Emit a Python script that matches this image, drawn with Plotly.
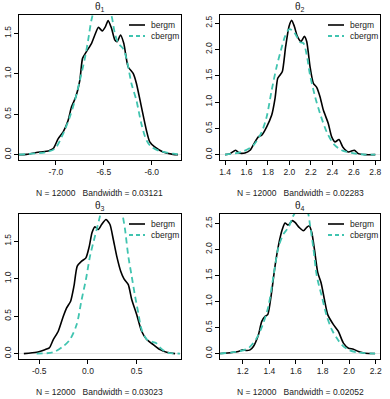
import plotly.graph_objects as go

# theta1
t1_bergm_x = [-7.385, -7.306, -7.167, -7.080, -7.028, -6.976, -6.924, -6.872, -6.837, -6.792, -6.750,
              -6.722, -6.681, -6.628, -6.594, -6.556, -6.517, -6.483, -6.455, -6.420, -6.385, -6.361,
              -6.326, -6.292, -6.247, -6.194, -6.160, -6.108, -6.056, -6.021, -5.969, -5.882, -5.778, -5.726]
t1_bergm_y = [0.0, 0.004, 0.033, 0.045, 0.074, 0.198, 0.281, 0.426, 0.591, 0.715, 0.921,
              1.190, 1.273, 1.376, 1.479, 1.574, 1.529, 1.583, 1.657, 1.562, 1.417, 1.397,
              1.479, 1.376, 1.087, 1.004, 0.880, 0.591, 0.302, 0.157, 0.095, 0.033, 0.004, 0.0]
t1_cbergm_x = [-7.385, -7.097, -7.010, -6.924, -6.854, -6.802, -6.750, -6.698, -6.663, -6.628, -6.576,
               -6.524, -6.472, -6.420, -6.385, -6.351, -6.299, -6.264, -6.212, -6.160, -6.108, -6.056,
               -6.003, -5.917, -5.778, -5.708]
t1_cbergm_y = [0.0, 0.033, 0.074, 0.26, 0.47, 0.67, 0.92, 1.19, 1.42, 1.67, 1.88,
               1.95, 1.90, 1.72, 1.50, 1.38, 1.31, 1.19, 0.88, 0.67, 0.38, 0.18,
               0.095, 0.045, 0.012, 0.0]

# theta2
t2_bergm_x = [1.400, 1.447, 1.499, 1.530, 1.586, 1.633, 1.679, 1.710, 1.742, 1.788, 1.835, 1.866, 1.891,
              1.913, 1.934, 1.965, 1.996, 2.021, 2.046, 2.074, 2.108, 2.139, 2.161, 2.192, 2.223, 2.254,
              2.285, 2.316, 2.362, 2.394, 2.425, 2.462, 2.497, 2.549, 2.605, 2.642, 2.704, 2.800]
t2_bergm_y = [0.0, 0.019, 0.083, 0.032, 0.032, 0.083, 0.242, 0.337, 0.369, 0.528, 0.751, 1.069, 1.450,
              1.514, 1.578, 2.055, 2.436, 2.551, 2.436, 2.246, 2.150, 2.246, 2.150, 1.673, 1.355, 1.279,
              1.101, 0.846, 0.592, 0.337, 0.242, 0.286, 0.146, 0.051, 0.083, 0.019, 0.0, 0.0]
t2_cbergm_x = [1.400, 1.555, 1.664, 1.742, 1.788, 1.835, 1.881, 1.922, 1.959, 1.999, 2.037, 2.068,
               2.099, 2.130, 2.161, 2.192, 2.239, 2.285, 2.347, 2.409, 2.487, 2.580, 2.704, 2.800]
t2_cbergm_y = [0.0, 0.051, 0.178, 0.433, 0.719, 1.228, 1.673, 1.991, 2.246, 2.386, 2.341, 2.246,
               2.137, 2.118, 1.896, 1.514, 1.101, 0.782, 0.433, 0.210, 0.083, 0.032, 0.0, 0.0]

# theta3
t3_bergm_x = [-0.658, -0.527, -0.442, -0.397, -0.356, -0.305, -0.253, -0.219, -0.178, -0.144, -0.110,
              -0.065, -0.021, 0.014, 0.041, 0.072, 0.106, 0.140, 0.185, 0.226, 0.260, 0.295, 0.336,
              0.370, 0.414, 0.449, 0.500, 0.551, 0.603, 0.671, 0.740, 0.808, 0.894]
t3_bergm_y = [0.0, 0.018, 0.053, 0.076, 0.187, 0.298, 0.498, 0.610, 0.699, 0.899, 1.166,
              1.233, 1.277, 1.433, 1.611, 1.691, 1.656, 1.722, 1.789, 1.722, 1.522, 1.300, 1.099,
              0.997, 0.921, 0.721, 0.521, 0.298, 0.187, 0.120, 0.053, 0.018, 0.0]
t3_cbergm_x = [-0.527, -0.356, -0.253, -0.185, -0.116, -0.065, -0.021, 0.021, 0.072, 0.123, 0.175,
               0.243, 0.312, 0.356, 0.380, 0.414, 0.449, 0.483, 0.517, 0.551, 0.603, 0.654, 0.699,
               0.740, 0.808, 0.945]
t3_cbergm_y = [0.0, 0.018, 0.098, 0.187, 0.387, 0.721, 0.988, 1.300, 1.567, 1.834, 2.20,
               2.50, 2.20, 1.85, 1.66, 1.30, 1.03, 0.77, 0.54, 0.32, 0.19, 0.16, 0.14,
               0.08, 0.018, 0.0]

# theta4
t4_bergm_x = [1.030, 1.117, 1.167, 1.200, 1.230, 1.255, 1.280, 1.318, 1.343, 1.368, 1.388, 1.413, 1.443,
              1.468, 1.498, 1.518, 1.543, 1.573, 1.593, 1.624, 1.656, 1.681, 1.699, 1.719, 1.739, 1.764,
              1.789, 1.814, 1.839, 1.882, 1.919, 1.957, 1.995, 2.032, 2.070, 2.120, 2.195]
t4_bergm_y = [0.0, 0.019, 0.039, 0.071, 0.058, 0.071, 0.135, 0.361, 0.619, 0.715, 0.747, 1.102, 1.682,
              2.068, 2.390, 2.506, 2.468, 2.552, 2.519, 2.423, 2.358, 2.423, 2.455, 2.326, 2.004, 1.553,
              1.360, 1.038, 0.747, 0.554, 0.425, 0.200, 0.103, 0.084, 0.039, 0.006, 0.0]
t4_cbergm_x = [1.030, 1.167, 1.243, 1.305, 1.355, 1.393, 1.431, 1.468, 1.506, 1.544, 1.581, 1.619, 1.649,
               1.682, 1.707, 1.732, 1.757, 1.794, 1.832, 1.870, 1.907, 1.945, 1.995, 2.070, 2.195]
t4_cbergm_y = [0.0, 0.039, 0.103, 0.296, 0.586, 0.909, 1.489, 2.036, 2.294, 2.423, 2.65, 2.78, 2.72,
               2.75, 2.45, 2.0, 1.489, 1.102, 0.716, 0.458, 0.296, 0.167, 0.071, 0.019, 0.0]

titles = ["θ<sub>1</sub>", "θ<sub>2</sub>", "θ<sub>3</sub>", "θ<sub>4</sub>"]
bandwidths = ["0.03121", "0.02283", "0.03023", "0.02052"]
n_draws = 12000
series_names = ["bergm", "cbergm"]

x_ranges = [[-7.385, -5.695], [1.353, 2.844], [-0.708, 0.955], [1.029, 2.232]]
y_ranges = [[-0.066, 1.726], [-0.102, 2.653], [-0.072, 1.862], [-0.105, 2.68]]
x_ticks = [[-7.0, -6.5, -6.0], [1.4, 1.6, 1.8, 2.0, 2.2, 2.4, 2.6, 2.8],
           [-0.5, 0.0, 0.5], [1.2, 1.4, 1.6, 1.8, 2.0, 2.2]]
y_ticks = [[0.0, 0.5, 1.0, 1.5], [0.0, 0.5, 1.0, 1.5, 2.0, 2.5],
           [0.0, 0.5, 1.0, 1.5], [0.0, 0.5, 1.0, 1.5, 2.0, 2.5]]

curves = [
    (t1_bergm_x, t1_bergm_y, t1_cbergm_x, t1_cbergm_y),
    (t2_bergm_x, t2_bergm_y, t2_cbergm_x, t2_cbergm_y),
    (t3_bergm_x, t3_bergm_y, t3_cbergm_x, t3_cbergm_y),
    (t4_bergm_x, t4_bergm_y, t4_cbergm_x, t4_cbergm_y),
]

W, H = 390, 399
TEAL = "#40c4b0"
TXT = "#222"
FONT = "Liberation Sans, Arial, sans-serif"
NBSP = "\u00a0"
styles = [dict(color="black", width=1.6, shape="spline", smoothing=0.6),
          dict(color=TEAL, width=1.8, dash="6px,4px", shape="spline", smoothing=0.8)]

# panel boxes in pixels (left, right, top, bottom)
boxes = [(19, 181, 15, 160), (220, 380, 15, 160), (19, 181, 214, 359), (220, 380, 214, 359)]

fig = go.Figure()
layout = {}
annotations = []
shapes = []
for i, (bx, by, cx, cy) in enumerate(curves):
    n = i + 1
    xa = "x" if n == 1 else f"x{n}"
    ya = "y" if n == 1 else f"y{n}"
    fig.add_trace(go.Scatter(x=bx, y=by, mode="lines", name=series_names[0], xaxis=xa, yaxis=ya,
                             line=styles[0], showlegend=False))
    fig.add_trace(go.Scatter(x=cx, y=cy, mode="lines", name=series_names[1], xaxis=xa, yaxis=ya,
                             line=styles[1], showlegend=False))
    l, r, t, b = boxes[i]
    common = dict(showline=True, mirror=True, linecolor="black", linewidth=1, ticks="outside",
                  ticklen=4, tickcolor="black", tickfont=dict(size=8.5, color=TXT, family=FONT),
                  showgrid=False, automargin=False)
    layout["xaxis" if n == 1 else f"xaxis{n}"] = dict(
        domain=[l / W, r / W], anchor=ya, range=x_ranges[i], tickvals=x_ticks[i],
        ticktext=[f"{v:.1f}" for v in x_ticks[i]], zeroline=False, **common)
    layout["yaxis" if n == 1 else f"yaxis{n}"] = dict(
        domain=[1 - b / H, 1 - t / H], anchor=xa, range=y_ranges[i], tickvals=y_ticks[i],
        ticktext=[f"{v:.1f}" for v in y_ticks[i]], tickangle=-90, zeroline=True,
        zerolinecolor="#e4e4e4", zerolinewidth=1, **common)

    # legend drawn inside the panel, top-right, like R's legend(bty="n")
    pw, ph = r - l, b - t
    for k, name in enumerate(series_names):
        yy = 1 - (10 + 11 * k) / ph
        shapes.append(dict(type="line", xref=f"{xa} domain", yref=f"{ya} domain",
                           x0=1 - 52 / pw, x1=1 - 36 / pw, y0=yy, y1=yy,
                           line=dict(color=styles[k]["color"], width=styles[k]["width"],
                                     dash="4px,3px" if k == 1 else "solid")))
        annotations.append(dict(text=name, xref=f"{xa} domain", yref=f"{ya} domain",
                                x=1 - 32 / pw, y=yy, xanchor="left", yanchor="middle",
                                showarrow=False, font=dict(size=8.5, family=FONT, color=TXT)))

    cxp = (l + r) / 2 / W
    annotations.append(dict(text=titles[i], x=cxp, y=1 - (t - 8) / H, xref="paper", yref="paper",
                            xanchor="center", yanchor="middle", showarrow=False,
                            font=dict(size=10, family=FONT, color=TXT)))
    annotations.append(dict(text=f"N = {n_draws}{NBSP * 3}Bandwidth = {bandwidths[i]}", x=cxp,
                            y=1 - (b + 33) / H, xref="paper", yref="paper",
                            xanchor="center", yanchor="middle", showarrow=False,
                            font=dict(size=8.5, family=FONT, color=TXT)))

fig.update_layout(width=W, height=H, margin=dict(l=0, r=0, t=0, b=0), plot_bgcolor="white",
                  paper_bgcolor="white", showlegend=False, annotations=annotations, shapes=shapes,
                  **layout)

# the page body has a default 8px margin; drop it so the figure sits at the window's corner
fig.write_html("out.html", config={"displayModeBar": False},
               post_script="document.body.style.margin='0';")
